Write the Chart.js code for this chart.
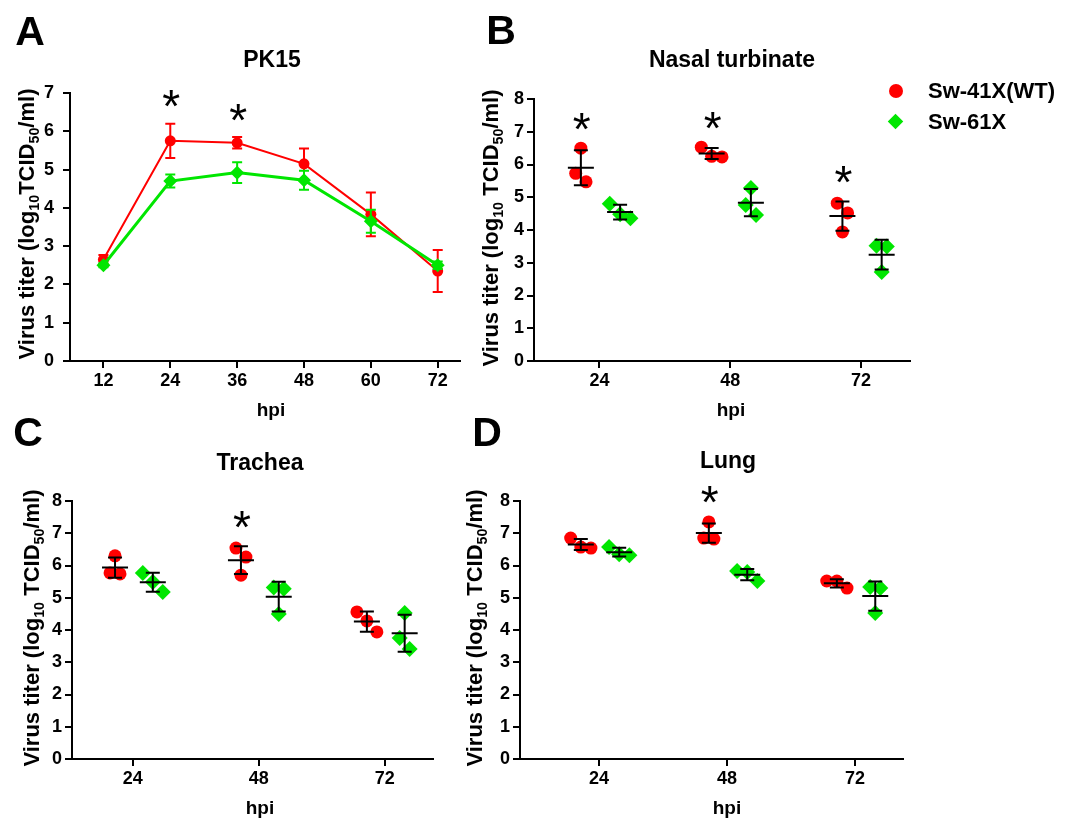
<!DOCTYPE html>
<html>
<head>
<meta charset="utf-8">
<script src="https://cdn.jsdelivr.net/npm/chart.js@4.4.1/dist/chart.umd.min.js"></script>
<style>
body { margin: 0; background: #fff; width: 1072px; height: 822px; position: relative; overflow: hidden;
       font-family: "Liberation Sans", Arial, sans-serif; font-weight: bold; color: #000; }
canvas { position: absolute; }
.t { position: absolute; white-space: nowrap; line-height: 1; transform: translate(-50%, -50%); }
.letter { font-size: 41px; }
.title { font-size: 23px; }
.hpi { font-size: 19px; }
.ylab { font-size: 22px; transform: translate(-50%, -50%) rotate(-90deg); }
.ylab sub { font-size: 65%; line-height: 0; }
.leg { font-size: 22px; transform: translate(0, -50%); }
.dot { position: absolute; width: 14px; height: 14px; border-radius: 50%; background: #ff0000; }
.dia { position: absolute; width: 11px; height: 11px; background: #00e600; transform: rotate(45deg); }
</style>
</head>
<body>
<canvas id="pk15" width="480" height="400" style="left:0;top:0"></canvas>
<canvas id="nasal" width="592" height="400" style="left:480px;top:0"></canvas>
<canvas id="trachea" width="470" height="412" style="left:0;top:410px"></canvas>
<canvas id="lung" width="602" height="412" style="left:470px;top:410px"></canvas>

<div class="t letter" style="left:30px;top:31px">A</div>
<div class="t letter" style="left:501px;top:30px">B</div>
<div class="t letter" style="left:28px;top:432px">C</div>
<div class="t letter" style="left:487px;top:432px">D</div>

<div class="t title" style="left:272px;top:59px">PK15</div>
<div class="t title" style="left:732px;top:59px">Nasal turbinate</div>
<div class="t title" style="left:260px;top:462px">Trachea</div>
<div class="t title" style="left:728px;top:460px">Lung</div>

<div class="t hpi" style="left:271px;top:409px">hpi</div>
<div class="t hpi" style="left:731px;top:409px">hpi</div>
<div class="t hpi" style="left:260px;top:807px">hpi</div>
<div class="t hpi" style="left:727px;top:807px">hpi</div>

<div class="t ylab" style="left:27px;top:224px">Virus titer (log<sub>10</sub>TCID<sub>50</sub>/ml)</div>
<div class="t ylab" style="left:491px;top:228px">Virus titer (log<sub>10</sub> TCID<sub>50</sub>/ml)</div>
<div class="t ylab" style="left:32px;top:628px">Virus titer (log<sub>10</sub> TCID<sub>50</sub>/ml)</div>
<div class="t ylab" style="left:475px;top:628px">Virus titer (log<sub>10</sub> TCID<sub>50</sub>/ml)</div>

<div class="dot" style="left:889px;top:84px"></div>
<div class="t leg" style="left:928px;top:91px">Sw-41X(WT)</div>
<div class="dia" style="left:890px;top:116px"></div>
<div class="t leg" style="left:928px;top:122px">Sw-61X</div>

<script>
// panel A: PK15 cells, mean and SD
const hpiA = [12, 24, 36, 48, 60, 72];
const pk15WT = [2.65, 5.75, 5.7, 5.15, 3.83, 2.35];
const pk15WTsd = [0.12, 0.45, 0.15, 0.4, 0.57, 0.55];
const pk15Mut = [2.5, 4.7, 4.92, 4.72, 3.65, 2.5];
const pk15Mutsd = [0.05, 0.17, 0.27, 0.25, 0.3, 0.1];
const sigA = [24, 36];

// panels B-D: three pigs per time point
const hpiTissue = [24, 48, 72];
const nasalWT = [[6.5, 5.47, 5.73], [6.53, 6.23, 6.25], [4.82, 3.94, 4.52]];
const nasalMut = [[4.8, 4.36, 4.48], [5.28, 4.46, 4.76], [3.52, 2.72, 3.5]];
const sigNasal = [24, 48, 72];

const tracheaWT = [[6.3, 5.77, 5.74], [6.54, 5.7, 6.26], [4.56, 3.94, 4.28]];
const tracheaMut = [[5.77, 5.18, 5.49], [5.32, 4.5, 5.28], [4.53, 3.41, 3.75]];
const sigTrachea = [48];

const lungWT = [[6.85, 6.54, 6.57], [7.35, 6.85, 6.82], [5.52, 5.3, 5.52]];
const lungMut = [[6.57, 6.32, 6.35], [5.8, 5.52, 5.83], [5.3, 4.53, 5.33]];
const sigLung = [48];

const ticksA = [12, 24, 36, 48, 60, 72];
const ticksTissue = [24, 48, 72];
const yTicksA = [0, 1, 2, 3, 4, 5, 6, 7];
const yTicksTissue = [0, 1, 2, 3, 4, 5, 6, 7, 8];

const FONT = '"Liberation Sans", Arial, sans-serif';
const RED = '#ff0000';
const GREEN = '#00e600';

function mean(a) { return a.reduce((s, v) => s + v, 0) / a.length; }
function sd(a) {
    const m = mean(a);
    return Math.sqrt(a.reduce((s, v) => s + (v - m) * (v - m), 0) / (a.length - 1));
}

// spread points that would overlap, like a column scatter
function jitter(vals, step) {
    const idx = vals.map((v, i) => i).sort((a, b) => vals[b] - vals[a]);
    const off = vals.map(() => 0);
    let cluster = [idx[0]];
    const flush = () => cluster.forEach((k, j) => { off[k] = (j - (cluster.length - 1) / 2) * step; });
    for (let i = 1; i < idx.length; i++) {
        if (vals[cluster[cluster.length - 1]] - vals[idx[i]] < 0.45) cluster.push(idx[i]);
        else { flush(); cluster = [idx[i]]; }
    }
    flush();
    return off;
}

function groupPoints(times, reps, shift) {
    const pts = [];
    times.forEach((t, i) => {
        const off = jitter(reps[i], 1.9);
        reps[i].forEach((v, j) => pts.push({ x: t + shift + off[j], y: v }));
    });
    return pts;
}

function groupBars(times, reps, shift) {
    return times.map((t, i) => ({ x: t + shift, mean: mean(reps[i]), sd: sd(reps[i]) }));
}

// black mean line with SD whiskers
const meanSdPlugin = {
    id: 'meanSd',
    afterDatasetsDraw(chart, args, opts) {
        if (!opts.groups) return;
        const { ctx } = chart;
        const x = chart.scales.x, y = chart.scales.y;
        ctx.save();
        ctx.strokeStyle = '#000';
        ctx.lineWidth = 2;
        opts.groups.forEach(g => {
            const cx = x.getPixelForValue(g.x);
            const m = y.getPixelForValue(g.mean);
            const hi = y.getPixelForValue(g.mean + g.sd);
            const lo = y.getPixelForValue(g.mean - g.sd);
            ctx.beginPath();
            ctx.moveTo(cx - 13, m); ctx.lineTo(cx + 13, m);
            ctx.moveTo(cx, hi); ctx.lineTo(cx, lo);
            ctx.moveTo(cx - 7, hi); ctx.lineTo(cx + 7, hi);
            ctx.moveTo(cx - 7, lo); ctx.lineTo(cx + 7, lo);
            ctx.stroke();
        });
        ctx.restore();
    }
};

// coloured error bars for the line chart
const errorPlugin = {
    id: 'errorBars',
    afterDatasetDraw(chart, args) {
        const ds = chart.data.datasets[args.index];
        if (!ds.errors) return;
        const { ctx } = chart;
        const y = chart.scales.y;
        ctx.save();
        ctx.strokeStyle = ds.borderColor;
        ctx.lineWidth = 2;
        args.meta.data.forEach((el, i) => {
            const v = ds.data[i].y, e = ds.errors[i];
            const hi = y.getPixelForValue(v + e), lo = y.getPixelForValue(v - e);
            ctx.beginPath();
            ctx.moveTo(el.x, hi); ctx.lineTo(el.x, lo);
            ctx.moveTo(el.x - 5, hi); ctx.lineTo(el.x + 5, hi);
            ctx.moveTo(el.x - 5, lo); ctx.lineTo(el.x + 5, lo);
            ctx.stroke();
        });
        ctx.restore();
    }
};

const starPlugin = {
    id: 'stars',
    afterDraw(chart, args, opts) {
        if (!opts.marks) return;
        const { ctx } = chart;
        const x = chart.scales.x, y = chart.scales.y;
        ctx.save();
        ctx.fillStyle = '#000';
        ctx.font = 'normal 46px ' + FONT;
        ctx.textAlign = 'left';
        ctx.textBaseline = 'alphabetic';
        const m = ctx.measureText('*');
        opts.marks.forEach(s => {
            const cx = x.getPixelForValue(s.x) + 1;
            const cy = y.getPixelForValue(s.top) - opts.gap;
            ctx.fillText('*', cx - (m.actualBoundingBoxRight - m.actualBoundingBoxLeft) / 2,
                cy + (m.actualBoundingBoxAscent - m.actualBoundingBoxDescent) / 2);
        });
        ctx.restore();
    }
};

function options(cfg) {
    const tickFont = { family: FONT, size: 18, weight: 'bold' };
    const grid = { drawOnChartArea: false, drawTicks: true, tickLength: 7, color: '#000', lineWidth: 2 };
    const border = { color: '#000', width: 2 };
    return {
        responsive: false,
        animation: false,
        events: [],
        layout: { padding: { top: cfg.top, right: cfg.right, left: 0, bottom: 0 } },
        plugins: {
            legend: { display: false },
            tooltip: { enabled: false },
            meanSd: { groups: cfg.groups },
            stars: { marks: cfg.stars, gap: cfg.gap }
        },
        scales: {
            x: {
                type: 'linear', min: cfg.xmin, max: cfg.xmax,
                afterBuildTicks: s => { s.ticks = cfg.xticks.map(v => ({ value: v })); },
                afterFit: s => { s.height = cfg.xH; },
                ticks: { color: '#000', font: tickFont, padding: 2, maxRotation: 0, autoSkip: false },
                grid: grid, border: border
            },
            y: {
                type: 'linear', min: 0, max: cfg.ymax,
                afterBuildTicks: s => { s.ticks = cfg.yticks.map(v => ({ value: v })); },
                afterFit: s => { s.width = cfg.yW; },
                ticks: { color: '#000', font: tickFont, padding: cfg.ypad, autoSkip: false },
                grid: grid, border: border
            }
        }
    };
}

Chart.register(meanSdPlugin, errorPlugin, starPlugin);

// panel A
new Chart(document.getElementById('pk15'), {
    type: 'scatter',
    data: {
        datasets: [{
            label: 'Sw-41X(WT)',
            data: hpiA.map((t, i) => ({ x: t, y: pk15WT[i] })),
            errors: pk15WTsd,
            showLine: true, borderColor: RED, borderWidth: 2, backgroundColor: RED,
            pointStyle: 'circle', pointRadius: 5.5, pointBorderWidth: 0, order: 1, clip: false
        }, {
            label: 'Sw-61X',
            data: hpiA.map((t, i) => ({ x: t, y: pk15Mut[i] })),
            errors: pk15Mutsd,
            showLine: true, borderColor: GREEN, borderWidth: 3, backgroundColor: GREEN,
            pointStyle: 'rectRot', pointRadius: 7, pointBorderWidth: 0, order: 0, clip: false
        }]
    },
    options: options({
        top: 93, right: 20, xH: 39, yW: 70, ypad: 9,
        xmin: 6, xmax: 76, xticks: ticksA, ymax: 7, yticks: yTicksA,
        stars: sigA.map(t => ({ x: t, top: pk15WT[hpiA.indexOf(t)] + pk15WTsd[hpiA.indexOf(t)] })),
        gap: 25
    })
});

const WT_SHIFT = -3.4, MUT_SHIFT = 3.8;

function tissueChart(id, wt, mut, sig, cfg) {
    const groups = groupBars(hpiTissue, wt, WT_SHIFT).concat(groupBars(hpiTissue, mut, MUT_SHIFT));
    const stars = sig.map(t => {
        const i = hpiTissue.indexOf(t);
        return { x: t + WT_SHIFT, top: Math.max(Math.max(...wt[i]), mean(wt[i]) + sd(wt[i])) };
    });
    new Chart(document.getElementById(id), {
        type: 'scatter',
        data: {
            datasets: [{
                label: 'Sw-41X(WT)',
                data: groupPoints(hpiTissue, wt, WT_SHIFT),
                backgroundColor: RED, pointStyle: 'circle', pointRadius: 6.5, pointBorderWidth: 0, clip: false
            }, {
                label: 'Sw-61X',
                data: groupPoints(hpiTissue, mut, MUT_SHIFT),
                backgroundColor: GREEN, pointStyle: 'rectRot', pointRadius: 8, pointBorderWidth: 0, clip: false
            }]
        },
        options: options(Object.assign({
            xticks: ticksTissue, ymax: 8, yticks: yTicksTissue, ypad: 3,
            groups: groups, stars: stars, gap: 27
        }, cfg))
    });
}

tissueChart('nasal', nasalWT, nasalMut, sigNasal, { top: 99, right: 162, xH: 39, yW: 54, xmin: 12, xmax: 81 });
tissueChart('trachea', tracheaWT, tracheaMut, sigTrachea, { top: 91, right: 37, xH: 63, yW: 72, xmin: 12.4, xmax: 81.2 });
tissueChart('lung', lungWT, lungMut, sigLung, { top: 91, right: 169, xH: 63, yW: 50, xmin: 9.2, xmax: 81 });
</script>
</body>
</html>
